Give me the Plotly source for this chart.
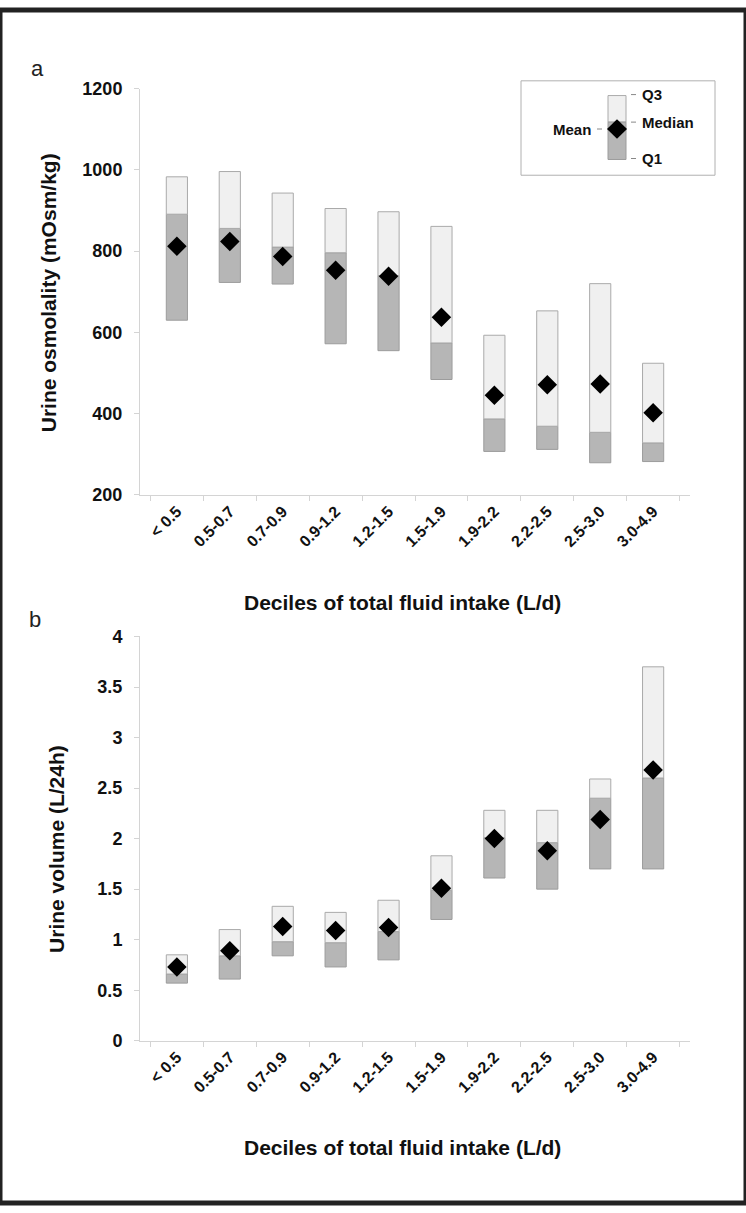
import plotly.graph_objects as go

categories = ["< 0.5", "0.5-0.7", "0.7-0.9", "0.9-1.2", "1.2-1.5",
              "1.5-1.9", "1.9-2.2", "2.2-2.5", "2.5-3.0", "3.0-4.9"]

osm_q1 = [630, 723, 719, 572, 555, 484, 307, 312, 279, 282]
osm_median = [891, 856, 810, 796, 740, 574, 387, 369, 354, 328]
osm_q3 = [983, 996, 943, 905, 897, 861, 593, 653, 720, 524]
osm_mean = [812, 824, 787, 753, 738, 637, 445, 471, 473, 402]

vol_q1 = [0.57, 0.61, 0.84, 0.73, 0.80, 1.20, 1.61, 1.50, 1.70, 1.70]
vol_median = [0.66, 0.84, 0.98, 0.97, 1.08, 1.49, 2.01, 1.96, 2.40, 2.60]
vol_q3 = [0.85, 1.10, 1.33, 1.27, 1.39, 1.83, 2.28, 2.28, 2.59, 3.70]
vol_mean = [0.73, 0.89, 1.13, 1.09, 1.12, 1.51, 2.00, 1.88, 2.19, 2.68]

W, H = 746, 1213
FONT = "Liberation Sans, Arial, sans-serif"
DARK_FILL, DARK_LINE = "#b6b6b6", "#9c9c9c"
LIGHT_FILL, LIGHT_LINE = "#f0f0f0", "#aaaaaa"
AXIS = "#d4d4d4"


def px(x):
    return x / W


def py(y):
    return 1 - y / H


fig = go.Figure()


def add_panel(q1, med, q3, mean, xa, ya):
    fig.add_trace(go.Bar(x=categories, y=[m - a for m, a in zip(med, q1)], base=q1,
                         width=0.4, marker=dict(color=DARK_FILL, line=dict(color=DARK_LINE, width=1)),
                         xaxis=xa, yaxis=ya, showlegend=False))
    fig.add_trace(go.Bar(x=categories, y=[b - m for b, m in zip(q3, med)], base=med,
                         width=0.4, marker=dict(color=LIGHT_FILL, line=dict(color=LIGHT_LINE, width=1)),
                         xaxis=xa, yaxis=ya, showlegend=False))
    fig.add_trace(go.Scatter(x=categories, y=mean, mode="markers",
                             marker=dict(symbol="diamond", size=15, color="black"),
                             xaxis=xa, yaxis=ya, showlegend=False))


add_panel(osm_q1, osm_median, osm_q3, osm_mean, "x", "y")
add_panel(vol_q1, vol_median, vol_q3, vol_mean, "x2", "y2")

tickfont = dict(family=FONT, size=18, color="#111", weight="bold")
xtickfont = dict(family=FONT, size=16, color="#111", weight="bold")

xcommon = dict(domain=[px(140), px(690)], showline=True, linecolor=AXIS, linewidth=1,
               ticks="outside", tickson="boundaries", ticklen=5, tickcolor=AXIS,
               tickangle=-45, tickfont=xtickfont, showgrid=False, zeroline=False)
ycommon = dict(showline=True, linecolor=AXIS, linewidth=1, ticks="outside", ticklen=5,
               tickcolor=AXIS, tickfont=tickfont, showgrid=False, zeroline=False,
               ticklabelstandoff=8)

fig.update_layout(
    width=W, height=H, margin=dict(l=0, r=0, t=0, b=0),
    paper_bgcolor="white", plot_bgcolor="white", barmode="overlay",
    xaxis=dict(anchor="y", **xcommon),
    yaxis=dict(anchor="x", domain=[py(493), py(80)], range=[200, 1200],
               tickvals=[200, 400, 600, 800, 1000, 1200], **ycommon),
    xaxis2=dict(anchor="y2", **xcommon),
    yaxis2=dict(anchor="x2", domain=[py(1048), py(637)], range=[0, 4],
                tickvals=[0, 0.5, 1, 1.5, 2, 2.5, 3, 3.5, 4],
                ticktext=["0", "0.5", "1", "1.5", "2", "2.5", "3", "3.5", "4"], **ycommon),
)

title_font = dict(family=FONT, size=21, color="#111", weight="bold")
ann = [
    dict(text="a", x=px(37), y=py(59), font=dict(family=FONT, size=22, color="#222")),
    dict(text="b", x=px(35), y=py(620), font=dict(family=FONT, size=22, color="#222")),
    dict(text="Urine osmolality (mOsm/kg)", x=px(48), y=py(288), textangle=-90, font=title_font),
    dict(text="Urine volume (L/24h)", x=px(57), y=py(853), textangle=-90, font=title_font),
    dict(text="Deciles of total fluid intake (L/d)", x=px(402), y=py(602), font=title_font),
    dict(text="Deciles of total fluid intake (L/d)", x=px(402), y=py(1157), font=title_font),
]
lf = dict(family=FONT, size=15, color="#111", weight="bold")
ann += [
    dict(text="Q3", x=px(640), y=py(86), xanchor="left", font=lf),
    dict(text="Median", x=px(640), y=py(114), xanchor="left", font=lf),
    dict(text="Q1", x=px(640), y=py(151), xanchor="left", font=lf),
    dict(text="Mean", x=px(593), y=py(121), xanchor="right", font=lf),
]
annotations = []
for a in ann:
    a.setdefault("xanchor", "center")
    annotations.append(dict(xref="paper", yref="paper", showarrow=False, yanchor="middle", **a))
fig.update_layout(annotations=annotations)

shapes = [
    dict(type="rect", x0=px(521), x1=px(715), y0=py(72), y1=py(168),
         line=dict(color="#b0b0b0", width=1)),
    dict(type="rect", x0=px(608), x1=px(626), y0=py(87), y1=py(114),
         fillcolor=LIGHT_FILL, line=dict(color=LIGHT_LINE, width=1)),
    dict(type="rect", x0=px(608), x1=px(626), y0=py(114), y1=py(152),
         fillcolor=DARK_FILL, line=dict(color=DARK_LINE, width=1)),
    dict(type="path",
         path=f"M {px(617)} {py(111)} L {px(627)} {py(121)} L {px(617)} {py(131)} L {px(607)} {py(121)} Z",
         fillcolor="black", line=dict(color="black", width=0)),
    dict(type="rect", x0=0, x1=1, y0=0, y1=1, line=dict(color="#222", width=5)),
]
for yy in (86, 114, 151):
    shapes.append(dict(type="line", x0=px(631), x1=px(636), y0=py(yy), y1=py(yy),
                       line=dict(color="#888", width=1)))
shapes.append(dict(type="line", x0=px(597), x1=px(602), y0=py(121), y1=py(121),
                   line=dict(color="#888", width=1)))
for s in shapes:
    s.update(xref="paper", yref="paper")
fig.update_layout(shapes=shapes)

post = (
    "document.documentElement.style.margin='0';"
    "document.body.style.margin='0';document.body.style.padding='0';"
    "document.body.style.overflow='hidden';"
    "var g=document.querySelector('.plotly-graph-div');"
    "if(g){g.style.position='fixed';g.style.top='0';g.style.left='0';}"
)
fig.write_html("out.html", config={"displayModeBar": False}, post_script=post)
